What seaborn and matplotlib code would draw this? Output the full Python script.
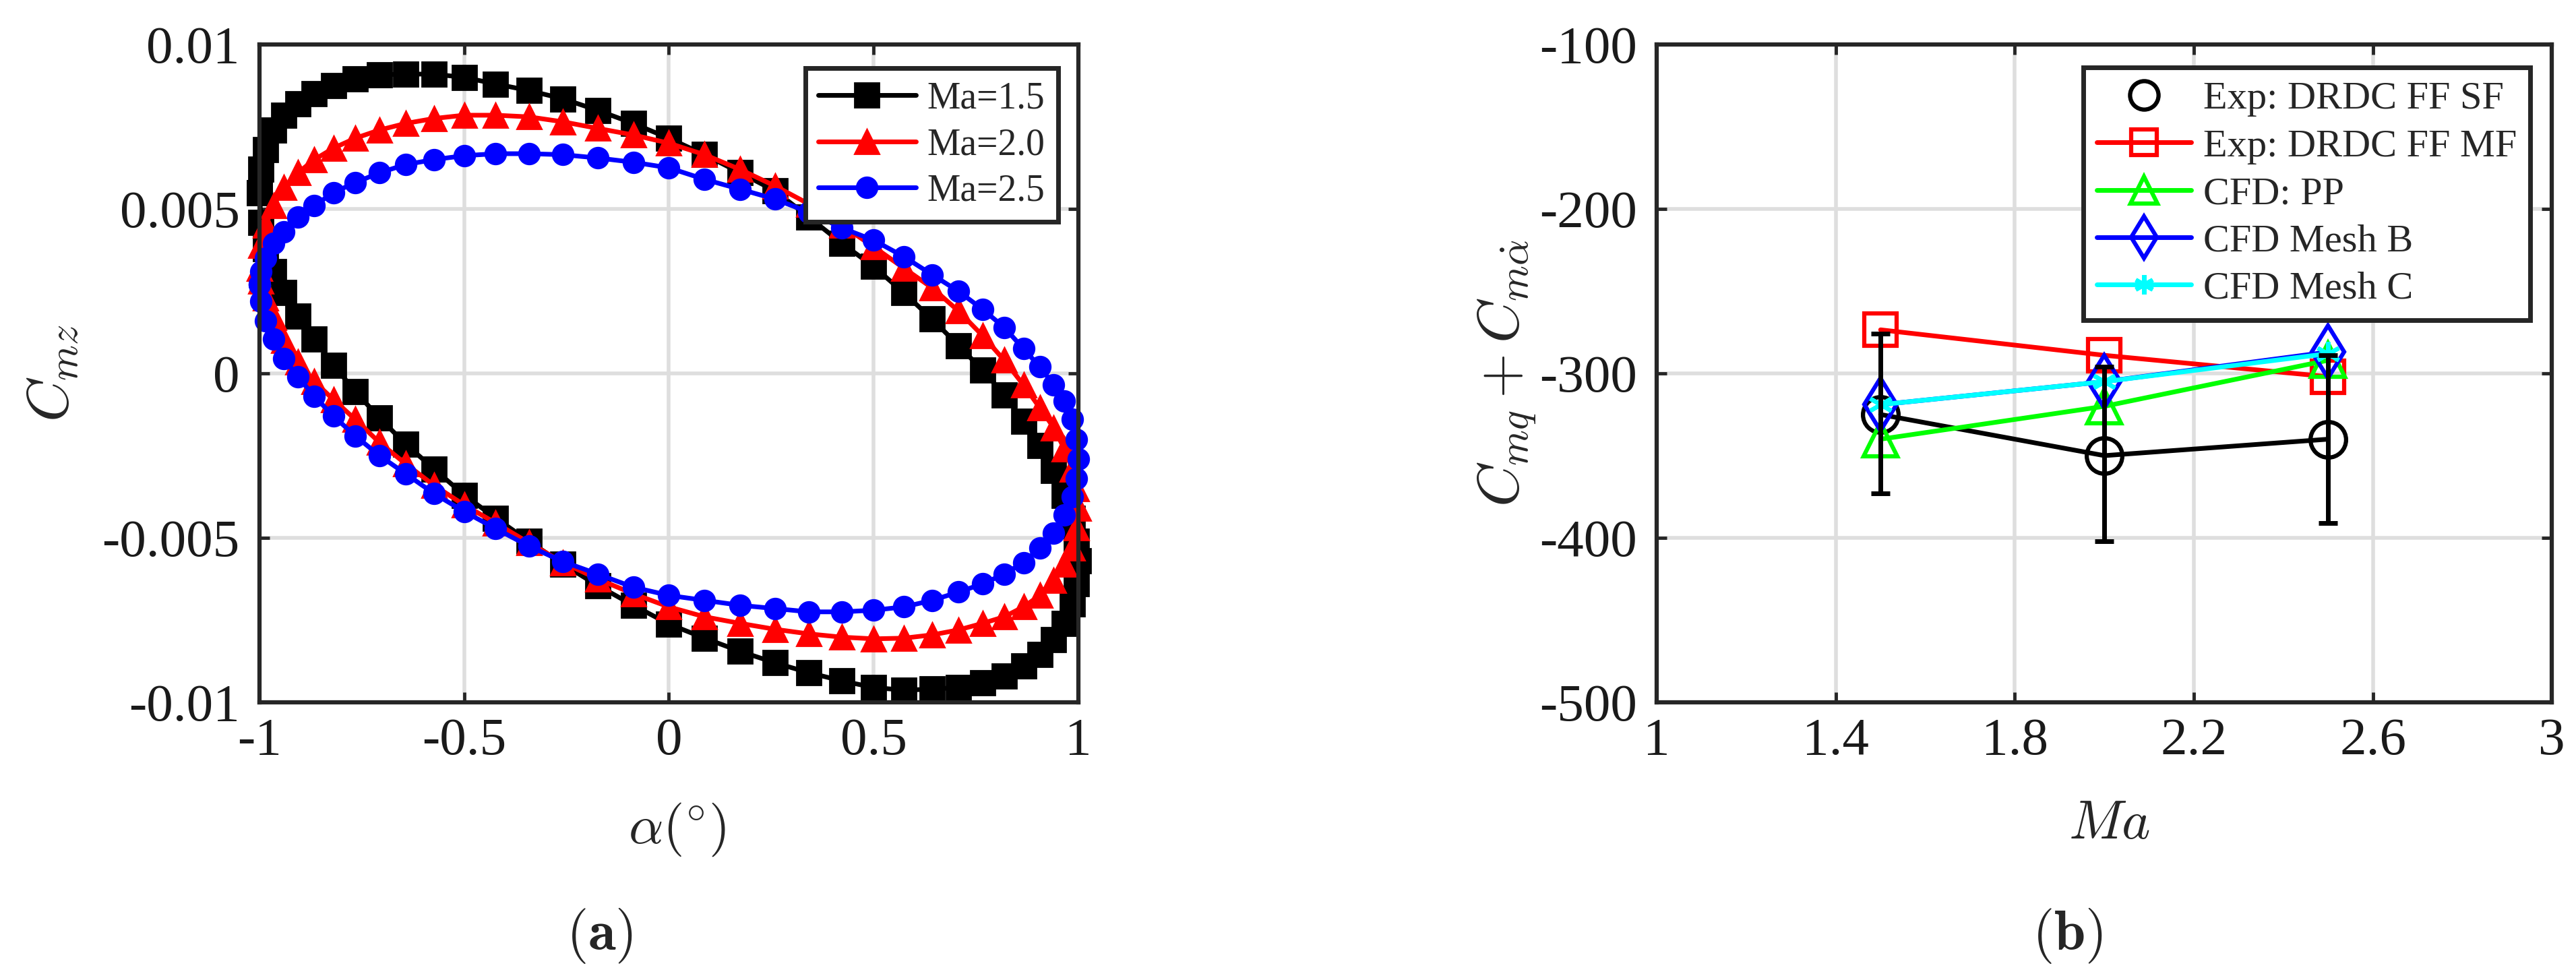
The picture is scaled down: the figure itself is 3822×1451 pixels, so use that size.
import pandas as pd
import matplotlib
matplotlib.use('Agg')
import matplotlib.pyplot as plt
import seaborn as sns
from matplotlib.lines import Line2D

# ---- (a) hysteresis loops, alpha sampled around one cycle ----
alpha_deg = [-1.0, -0.996, -0.985, -0.966, -0.940, -0.906, -0.866, -0.819, -0.766, -0.707,
             -0.643, -0.574, -0.5, -0.423, -0.342, -0.259, -0.174, -0.087, 0.0, 0.087,
             0.174, 0.259, 0.342, 0.423, 0.5, 0.574, 0.643, 0.707, 0.766, 0.819,
             0.866, 0.906, 0.940, 0.966, 0.985, 0.996, 1.0,
             0.996, 0.985, 0.966, 0.940, 0.906, 0.866, 0.819, 0.766, 0.707, 0.643,
             0.574, 0.5, 0.423, 0.342, 0.259, 0.174, 0.087, 0.0, -0.087, -0.174,
             -0.259, -0.342, -0.423, -0.5, -0.574, -0.643, -0.707, -0.766, -0.819, -0.866,
             -0.906, -0.940, -0.966, -0.985, -0.996, -1.0]

# Cmz values in units of 1e-3
cmz_ma15 = [5.5, 6.2, 6.8, 7.4, 7.85, 8.2, 8.5, 8.75, 8.95, 9.08,
            9.1, 9.1, 9.0, 8.8, 8.6, 8.35, 8.0, 7.6, 7.15, 6.65,
            6.1, 5.55, 4.75, 3.95, 3.25, 2.45, 1.65, 0.85, 0.1, -0.65,
            -1.45, -2.2, -2.95, -3.7, -4.4, -5.1, -5.7,
            -6.4, -7.0, -7.6, -8.1, -8.55, -8.9, -9.2, -9.4, -9.55, -9.6,
            -9.63, -9.55, -9.35, -9.1, -8.8, -8.45, -8.05, -7.62, -7.05, -6.45,
            -5.8, -5.1, -4.4, -3.7, -2.9, -2.15, -1.35, -0.55, 0.25, 1.05,
            1.75, 2.45, 3.1, 3.8, 4.6, 5.5]
cmz_ma20 = [3.2, 3.9, 4.5, 5.1, 5.65, 6.1, 6.5, 6.85, 7.15, 7.4,
            7.6, 7.75, 7.85, 7.85, 7.8, 7.65, 7.45, 7.25, 7.0, 6.65,
            6.2, 5.7, 5.15, 4.5, 3.85, 3.2, 2.6, 1.9, 1.15, 0.4,
            -0.35, -1.05, -1.65, -2.3, -2.9, -3.5, -4.1,
            -4.7, -5.3, -5.8, -6.3, -6.75, -7.1, -7.4, -7.6, -7.8, -7.95,
            -8.05, -8.07, -8.02, -7.92, -7.78, -7.6, -7.4, -7.1, -6.7, -6.25,
            -5.75, -5.15, -4.55, -4.0, -3.4, -2.75, -2.1, -1.4, -0.8, -0.25,
            0.35, 1.0, 1.7, 2.3, 2.8, 3.2]
cmz_ma25 = [2.7, 3.1, 3.5, 3.95, 4.3, 4.75, 5.1, 5.5, 5.8, 6.1,
            6.35, 6.5, 6.62, 6.68, 6.68, 6.65, 6.55, 6.42, 6.25, 5.9,
            5.6, 5.3, 4.9, 4.42, 4.05, 3.55, 3.0, 2.5, 1.95, 1.4,
            0.75, 0.2, -0.35, -0.85, -1.4, -2.0, -2.6,
            -3.2, -3.75, -4.3, -4.85, -5.3, -5.75, -6.1, -6.4, -6.65, -6.9,
            -7.1, -7.2, -7.25, -7.25, -7.15, -7.05, -6.9, -6.75, -6.5, -6.1,
            -5.72, -5.25, -4.72, -4.2, -3.65, -3.05, -2.5, -1.9, -1.3, -0.7,
            -0.1, 0.45, 1.05, 1.6, 2.2, 2.7]

# ---- (b) damping derivative vs Mach ----
mach = [1.5, 2.0, 2.5]
exp_sf = [-325, -350, -340]
exp_sf_err_lo = [48, 52, 51]
exp_sf_err_hi = [49, 54, 51]
exp_mf = [-273.5, -289, -302]
cfd_pp = [-340, -320, -292]
cfd_mesh_b = [-319, -305, -287]
cfd_mesh_c = [-319, -305, -288]

sns.set_theme(style='ticks')
plt.rcParams['font.family'] = ['Liberation Serif', 'DejaVu Serif']
plt.rcParams['mathtext.fontset'] = 'cm'
plt.rcParams['axes.unicode_minus'] = False

fig = plt.figure(figsize=(38.23, 14.51), dpi=100)
ax1 = fig.add_axes([0.1007, 0.2819, 0.3178, 0.6726])
ax2 = fig.add_axes([0.6430, 0.2819, 0.3474, 0.6726])

SPINE = '#262626'
GRID = '#dedede'
TICK_FS = 57


def style_axes(ax):
    ax.grid(True, color=GRID, linewidth=4)
    ax.set_axisbelow(True)
    for s in ax.spines.values():
        s.set_linewidth(4.5)
        s.set_color(SPINE)
        s.set_visible(True)
    ax.tick_params(direction='in', length=11, width=3.5, colors=SPINE,
                   labelsize=TICK_FS, labelcolor='#1a1a1a',
                   top=True, right=True)
    ax.tick_params(axis='x', pad=16)
    ax.tick_params(axis='y', pad=21)


# ---- panel (a) ----
loops = [('Ma=1.5', cmz_ma15, 'black', 's', 26),
         ('Ma=2.0', cmz_ma20, 'red', '^', 26),
         ('Ma=2.5', cmz_ma25, 'blue', 'o', 22)]
for name, vals, col, mk, ms in loops:
    d = pd.DataFrame({'alpha': alpha_deg, 'cmz': [v * 1e-3 for v in vals]})
    sns.lineplot(data=d, x='alpha', y='cmz', sort=False, estimator=None, ax=ax1,
                 color=col, marker=mk, markersize=ms, markeredgewidth=2,
                 markeredgecolor=col, linewidth=5, label=name, clip_on=False)

style_axes(ax1)
ax1.set_xlim(-1, 1)
ax1.set_ylim(-0.01, 0.01)
ax1.set_xticks([-1, -0.5, 0, 0.5, 1])
ax1.set_xticklabels(['-1', '-0.5', '0', '0.5', '1'])
ax1.set_yticks([-0.01, -0.005, 0, 0.005, 0.01])
ax1.set_yticklabels(['-0.01', '-0.005', '0', '0.005', '0.01'])
ax1.set_xlabel(r'$\alpha(^{\circ})$', fontsize=58)
ax1.set_ylabel(r'$C_{mz}$', fontsize=62)
ax1.xaxis.set_label_coords(0.51, -0.15)
ax1.yaxis.set_label_coords(-0.218, 0.5)
leg1 = ax1.legend(loc='upper right', bbox_to_anchor=(0.975, 0.964), fontsize=40,
                  frameon=True, fancybox=False, framealpha=1, borderaxespad=0,
                  handlelength=2.6, handletextpad=0.3, labelspacing=0.3,
                  borderpad=0.35)
leg1.get_frame().set_edgecolor(SPINE)
leg1.get_frame().set_linewidth(5)

# ---- panel (b) ----
ax2.errorbar(mach, exp_sf, yerr=[exp_sf_err_lo, exp_sf_err_hi], fmt='none',
             ecolor='black', elinewidth=5, capsize=10, capthick=5, zorder=6)
series = [('Exp: DRDC FF SF', exp_sf, 'black', 'o', 38),
          ('Exp: DRDC FF MF', exp_mf, 'red', 's', 34),
          ('CFD: PP', cfd_pp, 'lime', '^', 36),
          ('CFD Mesh B', cfd_mesh_b, 'blue', 'd', 40),
          ('CFD Mesh C', cfd_mesh_c, 'cyan', (6, 2, 0), 26)]
handles = []
for name, vals, col, mk, ms in series:
    sns.lineplot(x=mach, y=vals, ax=ax2, color=col, marker=mk, markersize=ms,
                 markerfacecolor='none', markeredgecolor=col, markeredgewidth=4.5,
                 linewidth=5)
    handles.append(Line2D([], [], color=col, marker=mk, markersize=ms * 0.8,
                          markerfacecolor='none', markeredgecolor=col,
                          markeredgewidth=4.5, linewidth=5,
                          linestyle='none' if name == 'Exp: DRDC FF SF' else '-'))

style_axes(ax2)
ax2.set_xlim(1, 3)
ax2.set_ylim(-500, -100)
ax2.set_xticks([1, 1.4, 1.8, 2.2, 2.6, 3])
ax2.set_xticklabels(['1', '1.4', '1.8', '2.2', '2.6', '3'])
ax2.set_yticks([-500, -400, -300, -200, -100])
ax2.set_yticklabels(['-500', '-400', '-300', '-200', '-100'])
ax2.set_xlabel(r'$Ma$', fontsize=58)
ax2.set_ylabel(r'$C_{mq}+C_{m\dot{\alpha}}$', fontsize=62)
ax2.xaxis.set_label_coords(0.505, -0.15)
ax2.yaxis.set_label_coords(-0.1325, 0.5)
leg2 = ax2.legend(handles, [s[0] for s in series], loc='upper right',
                  bbox_to_anchor=(0.976, 0.965), fontsize=42, frameon=True,
                  fancybox=False, framealpha=1, borderaxespad=0,
                  handlelength=2.4, handletextpad=0.3, labelspacing=0.3,
                  borderpad=0.35)
leg2.get_frame().set_edgecolor(SPINE)
leg2.get_frame().set_linewidth(5)

fig.text(0.2328, 0.043, r'$(\mathbf{a})$', ha='center', va='center', fontsize=60)
fig.text(0.8023, 0.043, r'$(\mathbf{b})$', ha='center', va='center', fontsize=60)

fig.savefig('out.png', dpi=100)
